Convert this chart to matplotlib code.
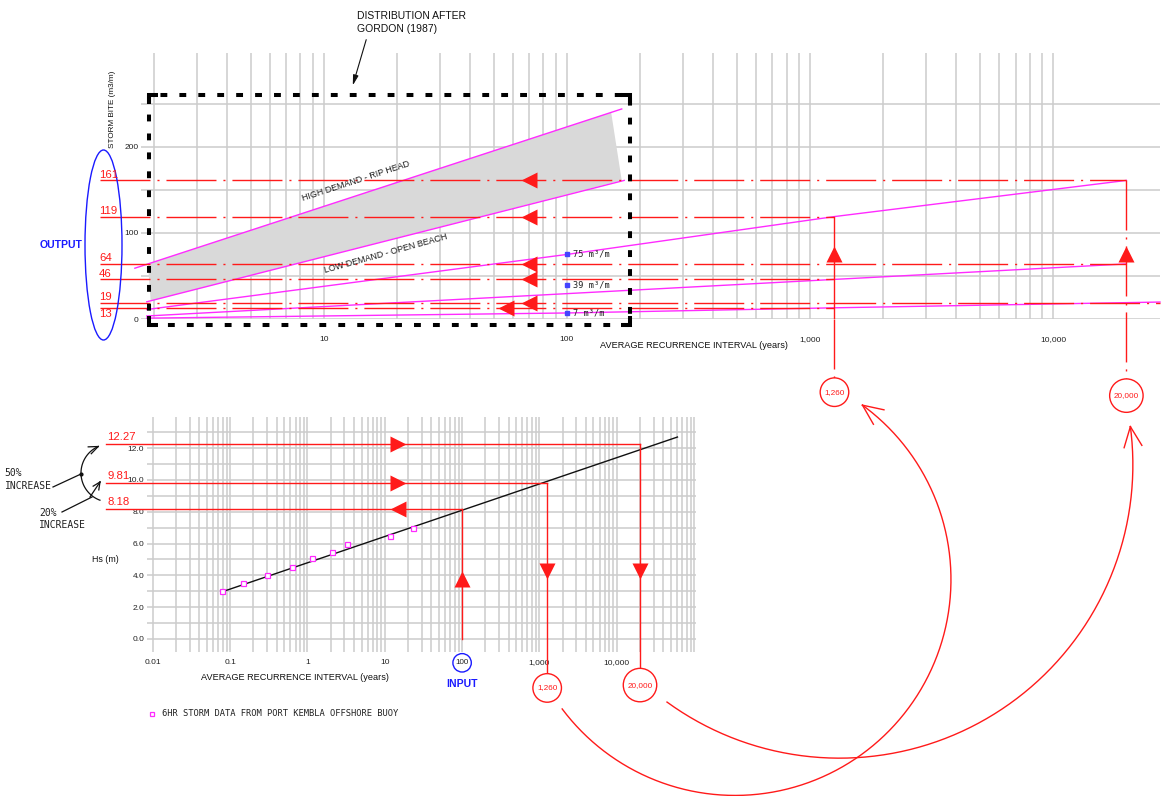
import numpy as np
import matplotlib
matplotlib.use("Agg")
import matplotlib.pyplot as plt
from matplotlib import transforms
from matplotlib.patches import Polygon, Ellipse, FancyArrowPatch
from matplotlib.lines import Line2D
from matplotlib.ticker import FixedLocator, FixedFormatter, NullFormatter

W, H, DPI = 1162, 796, 100

# ---------------- data ----------------
# Upper panel: storm bite (m3/m) against average recurrence interval (years)
high_ari = [1.67, 168]            # high demand - rip head
high_bite = [59, 244]
low_ari = [1.87, 172]             # low demand - open beach
low_bite = [20, 161]
band_ari = [1.89, 152, 168, 1.94]
band_bite = [64, 240, 161, 21]

line_a_ari = [1.87, 100, 1260, 20000]
line_a_bite = [11, 75, 119, 161]
line_b_ari = [1.87, 1260, 20000]
line_b_bite = [3.5, 46, 64]
line_c_ari = [1.87, 100, 1260, 20000, 27500]
line_c_bite = [1, 7, 13, 19, 19.7]

ref_ari = 100
ref_bite = [75, 39, 7]
ref_labels = ["75 m\u00b3/m", "39 m\u00b3/m", "7 m\u00b3/m"]

out_bite = [161, 119, 64, 46, 19, 13]
out_end_ari = [20000, 1260, 20000, 1260, 27500, 1260]
out_arrow_ari = [70, 70, 70, 70, 70, 56]

top_xticks = [10, 100, 1000, 10000]
top_xlabels = ["10", "100", "1,000", "10,000"]
top_yticks = [0, 50, 100, 150, 200, 250]
top_ylabels = ["0", "", "100", "", "200", ""]

# Lower panel: Hs (m) against average recurrence interval (years)
storm_ari = [0.078, 0.146, 0.30, 0.63, 1.14, 2.07, 3.2, 11.6, 23]
storm_hs = [3.0, 3.5, 4.0, 4.5, 5.1, 5.5, 6.0, 6.5, 7.0]
fit_ari = [0.078, 61000]
fit_hs = [2.96, 12.7]

design_ari = [100, 1260, 20000]
design_hs = [8.18, 9.81, 12.27]
design_tags = ["100", "1,260", "20,000"]
design_hs_labels = ["8.18", "9.81", "12.27"]

bot_xticks = [0.01, 0.1, 1, 10, 100, 1000, 10000, 100000]
bot_xlabels = ["0.01", "0.1", "1", "10", "", "1,000", "10,000", ""]
bot_yticks = list(range(0, 14))
bot_ylabels = ["%.1f" % v if v % 2 == 0 else "" for v in bot_yticks]

# ---------------- style ----------------
RED = "#ff1a1a"
MAG = "#ff2bff"
BLUE = "#1a1aff"
GRID = "#cccccc"
INK = "#1a1a1a"
SANS = "Liberation Sans"
MONO = "DejaVu Sans Mono"
plt.rcParams["font.family"] = SANS
DASHDOT = (36, 5, 1.5, 5)

fig = plt.figure(figsize=(W / DPI, H / DPI), dpi=DPI)
fig.patch.set_facecolor("white")


def axes_box(left, top, right, bottom):
    return [left / W, 1 - bottom / H, (right - left) / W, (bottom - top) / H]


def fx(x):
    return x / W


def fy(y):
    return 1 - y / H


ax1 = fig.add_axes(axes_box(141, 53, 1160, 319))
ax2 = fig.add_axes(axes_box(147, 417, 696, 652))


def decade_minors(lo, hi):
    return [k * 10.0 ** e for e in range(lo, hi) for k in range(2, 10)]


def style_axes(ax, xlim, ylim, xt, xl, minors, yt, yl, xpad, ypad, size):
    ax.set_xscale("log")
    ax.set_xlim(*xlim)
    ax.set_ylim(*ylim)
    ax.xaxis.set_major_locator(FixedLocator(xt))
    ax.xaxis.set_major_formatter(FixedFormatter(xl))
    ax.xaxis.set_minor_locator(FixedLocator(minors))
    ax.xaxis.set_minor_formatter(NullFormatter())
    ax.yaxis.set_major_locator(FixedLocator(yt))
    ax.yaxis.set_major_formatter(FixedFormatter(yl))
    ax.grid(True, which="both", axis="x", color=GRID, lw=1.1)
    ax.grid(True, which="major", axis="y", color=GRID, lw=1.1)
    ax.set_axisbelow(True)
    for s in ax.spines.values():
        s.set_visible(False)
    ax.patch.set_alpha(0)
    ax.tick_params(which="both", length=0, labelsize=size, colors="#222222")
    ax.tick_params(axis="x", pad=xpad)
    ax.tick_params(axis="y", pad=ypad)


style_axes(ax1, (1.77, 27500), (0, 309), top_xticks, top_xlabels,
           [v for v in decade_minors(0, 4) if v >= 2], top_yticks, top_ylabels,
           12, 2, 6)
style_axes(ax2, (0.0084, 106000), (-0.82, 13.96), bot_xticks, bot_xlabels,
           decade_minors(-2, 5), bot_yticks, bot_ylabels, 5, 2, 6)


def px_line(xs, ys, **kw):
    """Line in figure pixels (origin bottom-left)."""
    fig.add_artist(Line2D(np.asarray(xs, float) / W, np.asarray(ys, float) / H,
                          transform=fig.transFigure, **kw))


def open_head(tip, direction, length, half_angle, **kw):
    d = np.asarray(direction, float)
    d = d / np.hypot(*d)
    for s in (1, -1):
        a = np.radians(half_angle) * s
        rot = np.array([[np.cos(a), -np.sin(a)], [np.sin(a), np.cos(a)]])
        v = rot @ (-d)
        px_line([tip[0], tip[0] + v[0] * length],
                [tip[1], tip[1] + v[1] * length], **kw)


def ccw_arc(p1, p2, sweep_deg, n=300):
    p1 = np.asarray(p1, float)
    p2 = np.asarray(p2, float)
    th = np.radians(sweep_deg)
    chord = p2 - p1
    c = np.hypot(*chord)
    r = c / (2 * np.sin(th / 2))
    nrm = np.array([-chord[1], chord[0]]) / c
    ctr = (p1 + p2) / 2 + nrm * r * np.cos(th / 2)
    a0 = np.arctan2(p1[1] - ctr[1], p1[0] - ctr[0])
    t = a0 + np.linspace(0, th, n)
    return ctr[0] + r * np.cos(t), ctr[1] + r * np.sin(t), t[-1]


# ---------------- upper panel ----------------
ax1.add_patch(Polygon(np.column_stack([band_ari, band_bite]), closed=True,
                      fc="#d9d9d9", ec="none", zorder=1))
for xs, ys in ((high_ari, high_bite), (low_ari, low_bite),
               (line_a_ari, line_a_bite), (line_b_ari, line_b_bite),
               (line_c_ari, line_c_bite)):
    ax1.plot(xs, ys, color=MAG, lw=1.0, zorder=3, clip_on=False)

for b, lab in zip(ref_bite, ref_labels):
    ax1.plot(ref_ari, b, marker="s", ms=3.2, color="#4444ff", zorder=5)
    ax1.annotate(lab, (ref_ari, b), xytext=(4, 0), textcoords="offset points",
                 va="center", ha="left", fontsize=6.2, family=MONO,
                 color="#222222", zorder=5)

fig.text(fx(356), fy(181), "HIGH DEMAND - RIP HEAD", rotation=18.1,
         rotation_mode="anchor", ha="center", va="center", fontsize=6.4,
         color=INK)
fig.text(fx(386), fy(254), "LOW DEMAND - OPEN BEACH", rotation=15.5,
         rotation_mode="anchor", ha="center", va="center", fontsize=6.4,
         color=INK)

# output storm bites carried back to the vertical axis
left_end = 1.2
lab_tr = transforms.blended_transform_factory(fig.transFigure, ax1.transData)
for b, e, a in zip(out_bite, out_end_ari, out_arrow_ari):
    ax1.plot([left_end, e], [b, b], color=RED, lw=1.0, dashes=DASHDOT,
             zorder=4, clip_on=False)
    ax1.plot(a, b, marker="<", ms=11, color=RED, mec="none", zorder=6)
    below = b == 13
    fig.text(fx(99), b - 1.5 if below else b + 1.0, "%d" % b,
             transform=lab_tr, color=RED, fontsize=8.2,
             va="top" if below else "bottom", ha="left")

# verticals from the design ARIs up to the scaled lines
ax1.plot([1260, 1260], [119, 0], color=RED, lw=1.0, zorder=4)
ax1.plot([1260, 1260], [0, -85], color=RED, lw=1.0, dashes=DASHDOT,
         zorder=4, clip_on=False)
ax1.plot([20000, 20000], [161, -89], color=RED, lw=1.0, dashes=DASHDOT,
         zorder=4, clip_on=False)
for a in (1260, 20000):
    ax1.plot(a, 75, marker="^", ms=12, color=RED, mec="none", zorder=6)

circle_style = dict(boxstyle="circle,pad=0.5", fc="white", ec=RED, lw=1.0)
ax1.text(1260, -85, "1,260", ha="center", va="center", color=RED, fontsize=5.9,
         bbox=circle_style, zorder=7)
ax1.text(20000, -89, "20,000", ha="center", va="center", color=RED,
         fontsize=5.9, bbox=circle_style, zorder=7)

# Gordon (1987) distribution box
bx0, bx1, by0, by1 = 1.905, 181.5, -7, 260
(px0, py0) = ax1.transData.transform((bx0, by0))
(px1, py1) = ax1.transData.transform((bx1, by1))
px_line([px0, px1, px1, px0, px0], [py0, py0, py1, py1, py0], color="black",
        lw=2.9, dashes=(1.7, 3.0), dash_capstyle="butt", zorder=8)
arm = 9
for cx, cy, sx, sy in ((px0, py0, 1, 1), (px1, py0, -1, 1),
                       (px1, py1, -1, -1), (px0, py1, 1, -1)):
    px_line([cx + sx * arm, cx, cx], [cy, cy, cy + sy * arm], color="black",
            lw=2.9, solid_joinstyle="miter", solid_capstyle="butt", zorder=8)

fig.text(fx(357), fy(16), "DISTRIBUTION AFTER", fontsize=7.5, va="center",
         ha="left", color="#111111")
fig.text(fx(357), fy(29), "GORDON (1987)", fontsize=7.5, va="center",
         ha="left", color="#111111")
fig.add_artist(FancyArrowPatch(
    (fx(367), fy(37)), (fx(352), fy(88)), transform=fig.transFigure,
    arrowstyle="-|>,head_length=6,head_width=1.6", color="#111111", lw=0.8,
    mutation_scale=1))

fig.text(fx(113), fy(109), "STORM BITE (m3/m)", rotation=90, ha="center",
         va="center", fontsize=5.9, color="#111111")
fig.text(fx(600), fy(345), "AVERAGE RECURRENCE INTERVAL (years)", ha="left",
         va="center", fontsize=6.6, color="#111111")
fig.text(fx(61), fy(245), "OUTPUT", ha="center", va="center", fontsize=7.6,
         weight="bold", color=BLUE)
fig.add_artist(Ellipse((fx(103.5), fy(245)), 37 / W, 190 / H,
                       transform=fig.transFigure, fc="none", ec=BLUE, lw=1.0))

# ---------------- lower panel ----------------
ax2.plot(fit_ari, fit_hs, color="#111111", lw=1.0, zorder=3)
ax2.plot(storm_ari, storm_hs, ls="none", marker="s", ms=3.6, mfc="white",
         mec=MAG, mew=0.9, zorder=4)

left_end2 = 0.00247
hs_tr = transforms.blended_transform_factory(fig.transFigure, ax2.transData)
for a, h, lab in zip(design_ari, design_hs, design_hs_labels):
    ax2.plot([left_end2, a], [h, h], color=RED, lw=1.0, zorder=4,
             clip_on=False)
    fig.text(fx(107), h + 0.12, lab, transform=hs_tr, color=RED, fontsize=8.2,
             ha="left", va="bottom")
ax2.plot(14.8, design_hs[0], marker="<", ms=11, color=RED, mec="none",
         zorder=6)
for h in design_hs[1:]:
    ax2.plot(14.8, h, marker=">", ms=11, color=RED, mec="none", zorder=6)

# input at 100 years
ax2.plot([design_ari[0]] * 2, [design_hs[0], 0], color=RED, lw=1.0, zorder=4)
ax2.plot(design_ari[0], 3.8, marker="^", ms=11, color=RED, mec="none",
         zorder=6)
ax2.text(design_ari[0], -1.5, design_tags[0], ha="center", va="center",
         fontsize=5.8, color="#222222",
         bbox=dict(boxstyle="circle,pad=0.32", fc="white", ec=BLUE, lw=1.0),
         zorder=7)
ax2.text(design_ari[0], -2.85, "INPUT", ha="center", va="center", fontsize=7.6,
         weight="bold", color=BLUE)

# design ARIs
bottom_circle_y = [-3.08, -2.9]
for a, h, tag, cy in zip(design_ari[1:], design_hs[1:], design_tags[1:],
                         bottom_circle_y):
    ax2.plot([a, a], [h, cy], color=RED, lw=1.0, zorder=4, clip_on=False)
    ax2.plot(a, 4.3, marker="v", ms=11, color=RED, mec="none", zorder=6)
    ax2.text(a, cy, tag, ha="center", va="center", color=RED, fontsize=5.9,
             bbox=circle_style, zorder=7)

fig.text(fx(92), fy(560), "Hs (m)", ha="left", va="center", fontsize=6.4,
         color="#111111")
fig.text(fx(295), fy(677), "AVERAGE RECURRENCE INTERVAL (years)", ha="center",
         va="center", fontsize=6.6, color="#111111")

# legend
fig.add_artist(Line2D([fx(152)], [fy(714)], ls="none", marker="s", ms=3.4,
                      mfc="white", mec=MAG, mew=0.9,
                      transform=fig.transFigure))
fig.text(fx(162), fy(714), "6HR STORM DATA FROM PORT KEMBLA OFFSHORE BUOY",
         ha="left", va="center", fontsize=6.3, family=MONO, color="#222222")

# percentage increase notes
note = dict(va="center", fontsize=7, family=MONO, color="#222222")
fig.text(fx(22), fy(473), "50%", ha="right", **note)
fig.text(fx(52), fy(486), "INCREASE", ha="right", **note)
fig.text(fx(39), fy(513), "20%", ha="left", **note)
fig.text(fx(39), fy(525), "INCREASE", ha="left", **note)

# black arc between the 8.18 and 12.27 levels (figure pixels, y up)
arc_c = np.array([110.0, H - 473.0])
tt = np.radians(np.linspace(114, 249.7, 120))
px_line(arc_c[0] + 29 * np.cos(tt), arc_c[1] + 29 * np.sin(tt),
        color="#111111", lw=0.9)
t_end = np.radians(114)
open_head((arc_c[0] + 29 * np.cos(t_end), arc_c[1] + 29 * np.sin(t_end)),
          (np.sin(t_end), -np.cos(t_end)), 10, 22, color="#111111", lw=0.9)
px_line([53, 81], [H - 487, H - 474], color="#111111", lw=0.9)
fig.add_artist(Line2D([fx(81)], [fy(474)], ls="none", marker="o", ms=2,
                      color="#111111", transform=fig.transFigure))
px_line([62, 92], [H - 512, H - 497], color="#111111", lw=0.9)
px_line([90, 100], [H - 497, H - 482], color="#111111", lw=0.9)
open_head((100, H - 482), (10, 15), 8, 25, color="#111111", lw=0.9)

# red curved arrows carrying the lower-panel ARIs to the upper panel
for a, cy_bot, cy_top, off_a, off_b, sweep in (
        (1260, -3.08, -85, (15, -21), (28, -13), 197.0),
        (20000, -2.9, -89, (27, -17), (4, -31), 133.5)):
    pb = ax2.transData.transform((a, cy_bot)) + np.array(off_a)
    pt = ax1.transData.transform((a, cy_top)) + np.array(off_b)
    xs, ys, te = ccw_arc(pb, pt, sweep)
    px_line(xs, ys, color=RED, lw=1.0)
    open_head(pt, (-np.sin(te), np.cos(te)), 22, 24, color=RED, lw=1.0)

fig.savefig("out.png", dpi=DPI, facecolor="white")
